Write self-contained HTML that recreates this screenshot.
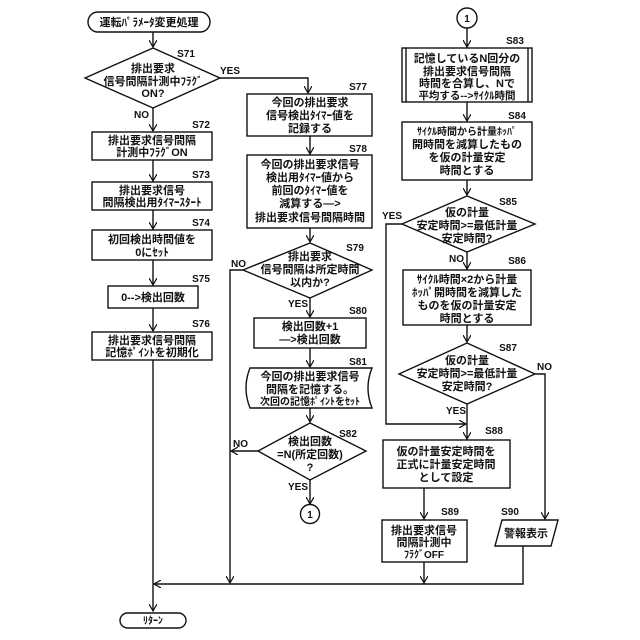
<!DOCTYPE html>
<html><head><meta charset="utf-8"><style>
html,body{margin:0;padding:0;background:#fff}
svg{display:block}
text{font-family:"Liberation Sans","Noto Sans CJK JP",sans-serif;font-size:11px;fill:#111;text-anchor:middle;font-weight:bold}
.l{font-size:10px;text-anchor:start}
.s{font-size:10px}
</style></head><body>
<svg width="640" height="640" viewBox="0 0 640 640" xmlns="http://www.w3.org/2000/svg">
<defs><marker id="a" markerWidth="8" markerHeight="8" refX="7" refY="4" orient="auto" markerUnits="userSpaceOnUse"><path d="M0,0 L7,4 L0,8" fill="none" stroke="#111" stroke-width="1.2"/></marker></defs>
<g fill="none" stroke="#111" stroke-width="1.4">
<!-- left column -->
<rect x="88" y="12" width="122" height="20" rx="10"/>
<line x1="153" y1="32" x2="153" y2="47" marker-end="url(#a)"/>
<polygon points="153,48 220,78 153,108 85,78"/>
<polyline points="220,78 308,78 308,93" marker-end="url(#a)"/>
<line x1="153" y1="108" x2="153" y2="131" marker-end="url(#a)"/>
<rect x="92" y="132" width="120" height="28"/>
<line x1="153" y1="160" x2="153" y2="181" marker-end="url(#a)"/>
<rect x="92" y="182" width="120" height="28"/>
<line x1="153" y1="210" x2="153" y2="229" marker-end="url(#a)"/>
<rect x="92" y="230" width="120" height="30"/>
<line x1="153" y1="260" x2="153" y2="285" marker-end="url(#a)"/>
<rect x="108" y="286" width="90" height="22"/>
<line x1="153" y1="308" x2="153" y2="331" marker-end="url(#a)"/>
<rect x="92" y="332" width="120" height="28"/>
<line x1="153" y1="360" x2="153" y2="611" marker-end="url(#a)"/>
<rect x="120" y="613" width="66" height="15" rx="7.5"/>
<!-- middle -->
<rect x="247" y="94" width="125" height="42"/>
<line x1="310" y1="136" x2="310" y2="154" marker-end="url(#a)"/>
<rect x="247" y="155" width="125" height="73"/>
<line x1="310" y1="228" x2="310" y2="242" marker-end="url(#a)"/>
<polygon points="310,243 372,270 310,298 243,270"/>
<polyline points="243,270 230,270 230,583" marker-end="url(#a)"/>
<line x1="310" y1="298" x2="310" y2="317" marker-end="url(#a)"/>
<rect x="254" y="318" width="112" height="30"/>
<line x1="310" y1="348" x2="310" y2="367" marker-end="url(#a)"/>
<path d="M250,368 H372 Q364,388 372,408 H250 Q242,388 250,368 Z"/>
<line x1="310" y1="408" x2="310" y2="422" marker-end="url(#a)"/>
<polygon points="310,423 366,451 310,480 258,451"/>
<line x1="258" y1="451" x2="231" y2="451" marker-end="url(#a)"/>
<line x1="310" y1="480" x2="310" y2="504" marker-end="url(#a)"/>
<circle cx="310" cy="514" r="9.5"/>
<!-- right -->
<circle cx="467" cy="18" r="10"/>
<line x1="467" y1="28" x2="467" y2="47" marker-end="url(#a)"/>
<rect x="402" y="48" width="130" height="54"/>
<line x1="406" y1="48" x2="406" y2="102"/><line x1="528" y1="48" x2="528" y2="102"/>
<line x1="467" y1="102" x2="467" y2="121" marker-end="url(#a)"/>
<rect x="402" y="122" width="130" height="58"/>
<line x1="467" y1="180" x2="467" y2="195" marker-end="url(#a)"/>
<polygon points="467,196 535,224 467,252 402,224"/>
<polyline points="402,224 386,224 386,424 466,424" marker-end="url(#a)"/>
<line x1="467" y1="252" x2="467" y2="269" marker-end="url(#a)"/>
<rect x="403" y="270" width="128" height="55"/>
<line x1="467" y1="325" x2="467" y2="342" marker-end="url(#a)"/>
<polygon points="467,343 535,374 467,404 399,374"/>
<line x1="467" y1="404" x2="467" y2="439" marker-end="url(#a)"/>
<polyline points="535,374 545,374 545,519" marker-end="url(#a)"/>
<rect x="383" y="440" width="127" height="48"/>
<line x1="424" y1="488" x2="424" y2="519" marker-end="url(#a)"/>
<rect x="382" y="520" width="85" height="42"/>
<polygon points="502,520 558,520 551,546 495,546"/>
<line x1="424" y1="562" x2="424" y2="583" marker-end="url(#a)"/>
<polyline points="523,546 523,584 154,584" marker-end="url(#a)"/>
</g>
<!-- texts -->
<text x="149" y="26">運転ﾊﾟﾗﾒｰﾀ変更処理</text>
<text class="s" x="186" y="57">S71</text>
<text x="153" y="72">排出要求</text><text x="153" y="85">信号間隔計測中ﾌﾗｸﾞ</text><text x="153" y="97">ON?</text>
<text class="l" x="220" y="74">YES</text>
<text class="l" x="134" y="118">NO</text>
<text class="s" x="201" y="128">S72</text>
<text x="152" y="144">排出要求信号間隔</text><text x="152" y="156">計測中ﾌﾗｸﾞON</text>
<text class="s" x="201" y="178">S73</text>
<text x="152" y="194">排出要求信号</text><text x="152" y="206">間隔検出用ﾀｲﾏｰｽﾀｰﾄ</text>
<text class="s" x="201" y="226">S74</text>
<text x="152" y="243">初回検出時間値を</text><text x="152" y="256">0にｾｯﾄ</text>
<text class="s" x="201" y="282">S75</text>
<text x="153" y="301">0-->検出回数</text>
<text class="s" x="201" y="327">S76</text>
<text x="152" y="344">排出要求信号間隔</text><text x="152" y="356">記憶ﾎﾟｲﾝﾄを初期化</text>
<text x="153" y="624" class="s">ﾘﾀｰﾝ</text>

<text class="s" x="358" y="90">S77</text>
<text x="310" y="106">今回の排出要求</text><text x="310" y="119">信号検出ﾀｲﾏｰ値を</text><text x="310" y="132">記録する</text>
<text class="s" x="358" y="152">S78</text>
<text x="310" y="168">今回の排出要求信号</text><text x="310" y="181">検出用ﾀｲﾏｰ値から</text><text x="310" y="194">前回のﾀｲﾏｰ値を</text><text x="310" y="207">減算する―></text><text x="310" y="221">排出要求信号間隔時間</text>
<text class="s" x="355" y="251">S79</text>
<text x="310" y="260">排出要求</text><text x="310" y="273">信号間隔は所定時間</text><text x="310" y="286">以内か?</text>
<text class="l" x="231" y="267">NO</text>
<text class="l" x="288" y="307">YES</text>
<text class="s" x="358" y="314">S80</text>
<text x="310" y="330">検出回数+1</text><text x="310" y="343">―>検出回数</text>
<text class="s" x="358" y="365">S81</text>
<text x="310" y="380">今回の排出要求信号</text><text x="310" y="393">間隔を記憶する。</text><text x="310" y="405" style="font-size:10px">次回の記憶ﾎﾟｲﾝﾄをｾｯﾄ</text>
<text class="s" x="348" y="437">S82</text>
<text x="310" y="445">検出回数</text><text x="310" y="458">=N(所定回数)</text><text x="310" y="471">?</text>
<text class="l" x="233" y="447">NO</text>
<text class="l" x="288" y="490">YES</text>
<text x="310" y="518" class="s">1</text>

<text x="467" y="22" class="s">1</text>
<text class="s" x="515" y="44">S83</text>
<text x="467" y="62">記憶しているN回分の</text><text x="467" y="75">排出要求信号間隔</text><text x="467" y="87">時間を合算し、Nで</text><text x="467" y="99" style="font-size:10.5px">平均する-->ｻｲｸﾙ時間</text>
<text class="s" x="517" y="119">S84</text>
<text x="467" y="135" style="font-size:10px">ｻｲｸﾙ時間から計量ﾎｯﾊﾟ</text><text x="467" y="148">開時間を減算したもの</text><text x="467" y="161">を仮の計量安定</text><text x="467" y="174">時間とする</text>
<text class="s" x="508" y="205">S85</text>
<text x="467" y="216">仮の計量</text><text x="467" y="229">安定時間&gt;=最低計量</text><text x="467" y="242">安定時間?</text>
<text class="l" x="382" y="219">YES</text>
<text class="l" x="449" y="262">NO</text>
<text class="s" x="517" y="264">S86</text>
<text x="467" y="283">ｻｲｸﾙ時間×2から計量</text><text x="467" y="296">ﾎｯﾊﾟ開時間を減算した</text><text x="467" y="309">ものを仮の計量安定</text><text x="467" y="322">時間とする</text>
<text class="s" x="508" y="351">S87</text>
<text x="467" y="364">仮の計量</text><text x="467" y="377">安定時間&gt;=最低計量</text><text x="467" y="390">安定時間?</text>
<text class="l" x="537" y="370">NO</text>
<text class="l" x="446" y="414">YES</text>
<text class="s" x="494" y="434">S88</text>
<text x="446" y="455">仮の計量安定時間を</text><text x="446" y="468">正式に計量安定時間</text><text x="446" y="481">として設定</text>
<text class="s" x="450" y="515">S89</text>
<text x="424" y="534">排出要求信号</text><text x="424" y="546">間隔計測中</text><text x="424" y="558" class="s">ﾌﾗｸﾞOFF</text>
<text class="s" x="510" y="515">S90</text>
<text x="526" y="537">警報表示</text>
</svg>
</body></html>
